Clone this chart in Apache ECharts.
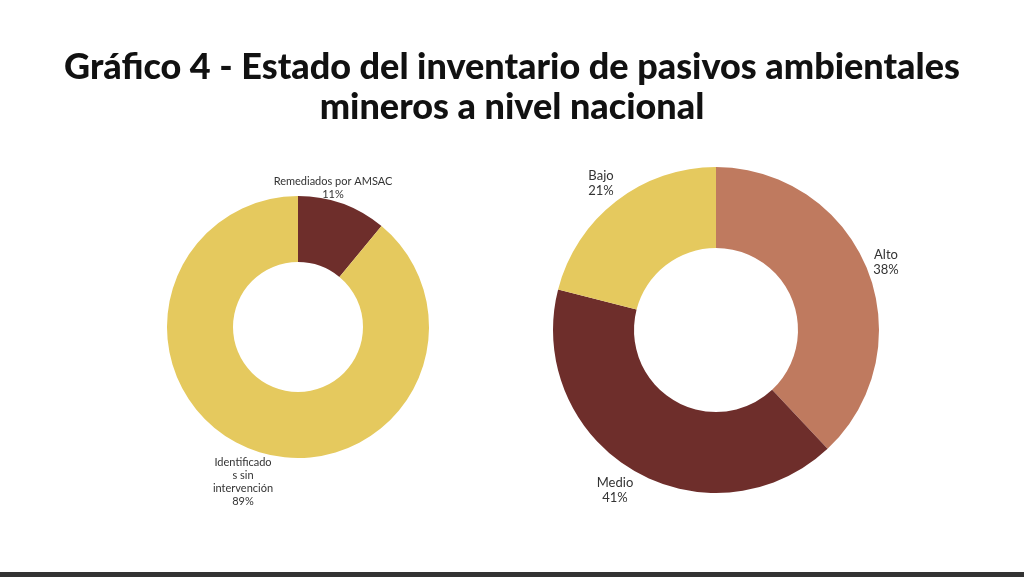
<!DOCTYPE html>
<html>
<head>
<meta charset="utf-8">
<script src="https://cdn.jsdelivr.net/npm/echarts@6/dist/echarts.min.js"></script>
<style>
  html, body { margin: 0; padding: 0; background: #fff; }
  #main { width: 1024px; height: 577px; }
</style>
</head>
<body>
<div id="main"></div>
<script>
var myChart = echarts.init(document.getElementById('main'));

// datos
var estadoNombres = ['Remediados por AMSAC', 'Identificados sin intervención'];
var estadoValores = [11, 89];
var estadoEtiquetas = ['Remediados por AMSAC\n11%', 'Identificado\ns sin\nintervención\n89%'];
var riesgoNombres = ['Alto', 'Medio', 'Bajo'];
var riesgoValores = [38, 41, 21];

var colEstado = ['#6E2E2B', '#E5C95E'];
var colRiesgo = ['#BF7A5F', '#6E2E2B', '#E5C95E'];

// posiciones de etiquetas
var posEstado = [[333, 188], [243, 482]];
var posRiesgo = [[886, 262], [615, 490], [601, 183]];

function armar (nombres, valores, colores) {
  var d = [];
  for (var i = 0; i < nombres.length; i++) {
    d.push({ name: nombres[i], value: valores[i], itemStyle: { color: colores[i] } });
  }
  return d;
}

var option = {
  backgroundColor: '#fff',
  title: {
    text: 'Gráfico 4 - Estado del inventario de pasivos ambientales\nmineros a nivel nacional',
    left: 'center',
    top: 42,
    textStyle: {
      fontFamily: 'Lato', fontWeight: 900, fontSize: 36, lineHeight: 40, color: '#111'
    }
  },
  graphic: [{
    type: 'rect', shape: { x: 0, y: 572, width: 1024, height: 5 }, style: { fill: '#333' }
  }],
  series: [
    {
      type: 'pie',
      center: [298, 327],
      radius: [65, 131],
      startAngle: 90,
      silent: true,
      data: armar(estadoNombres, estadoValores, colEstado),
      label: {
        show: true,
        position: 'outside',
        formatter: function (p) { return estadoEtiquetas[p.dataIndex]; },
        fontFamily: 'Lato', fontSize: 11, lineHeight: 13, color: '#333', align: 'center'
      },
      labelLine: { show: false },
      labelLayout: function (p) {
        return { x: posEstado[p.dataIndex][0], y: posEstado[p.dataIndex][1], align: 'center', verticalAlign: 'middle' };
      }
    },
    {
      type: 'pie',
      center: [716, 330],
      radius: [82, 163],
      startAngle: 90,
      silent: true,
      data: armar(riesgoNombres, riesgoValores, colRiesgo),
      label: {
        show: true,
        position: 'outside',
        formatter: '{b}\n{c}%',
        fontFamily: 'Lato', fontSize: 13, lineHeight: 15, color: '#333', align: 'center'
      },
      labelLine: { show: false },
      labelLayout: function (p) {
        return { x: posRiesgo[p.dataIndex][0], y: posRiesgo[p.dataIndex][1], align: 'center', verticalAlign: 'middle' };
      }
    }
  ]
};
myChart.setOption(option);
</script>
</body>
</html>
